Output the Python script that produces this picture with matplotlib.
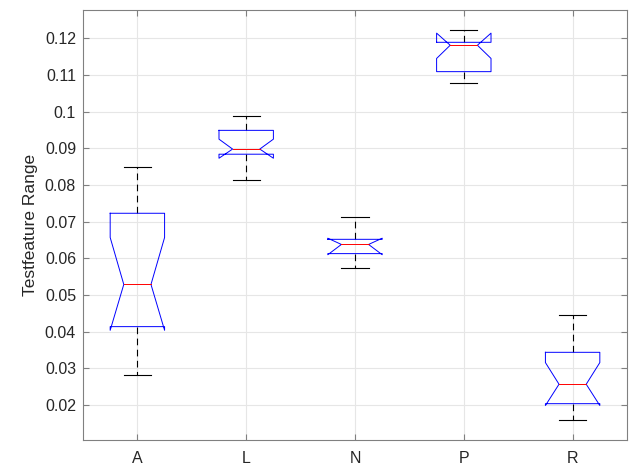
import matplotlib
matplotlib.use("Agg")
import matplotlib.pyplot as plt
import numpy as np

categories = ["A", "L", "N", "P", "R"]
upper_whisker = [0.0850, 0.0989, 0.0714, 0.1223, 0.0445]
q3 = [0.0723, 0.0949, 0.0652, 0.1189, 0.0344]
median = [0.0529, 0.0898, 0.0638, 0.1181, 0.0257]
q1 = [0.0414, 0.0884, 0.0613, 0.1109, 0.0204]
lower_whisker = [0.0282, 0.0815, 0.0573, 0.1077, 0.0159]
notch_hi = [0.0657, 0.0925, 0.0655, 0.1214, 0.0316]
notch_lo = [0.0404, 0.0873, 0.0610, 0.1145, 0.0199]
yticks = [0.02, 0.03, 0.04, 0.05, 0.06, 0.07, 0.08, 0.09, 0.10, 0.11, 0.12]

plt.rcParams['font.family'] = ['Liberation Sans', 'DejaVu Sans']
fig = plt.figure(figsize=(6.31, 4.66), dpi=100)
ax = fig.add_axes([0.1315, 0.0558, 0.8622, 0.9227])

hw = 0.25   # box half width
nw = 0.125  # notch / cap half width
for i in range(len(categories)):
    x = i + 1
    l, r = x - hw, x + hw
    li, ri = x - nw, x + nw
    xs = [l, l, li, l, l, r, r, ri, r, r, l]
    ys = [q3[i], notch_hi[i], median[i], notch_lo[i], q1[i], q1[i],
          notch_lo[i], median[i], notch_hi[i], q3[i], q3[i]]
    ax.plot(xs, ys, color='#0000ff', lw=0.7, zorder=3)
    ax.plot([li, ri], [median[i], median[i]], color='#ff0000', lw=0.7, zorder=4)
    ax.plot([x, x], [q3[i], upper_whisker[i]], color='black', lw=0.8,
            ls=(0, (6, 4)), zorder=2)
    ax.plot([x, x], [q1[i], lower_whisker[i]], color='black', lw=0.8,
            ls=(0, (6, 4)), zorder=2)
    ax.plot([li, ri], [upper_whisker[i], upper_whisker[i]], color='black', lw=0.8, zorder=2)
    ax.plot([li, ri], [lower_whisker[i], lower_whisker[i]], color='black', lw=0.8, zorder=2)

ax.set_xlim(0.5, len(categories) + 0.5)
ax.set_ylim(0.0105, 0.1277)
ax.set_xticks(range(1, len(categories) + 1))
ax.set_xticklabels(categories)
ax.set_yticks(yticks)
ax.set_yticklabels(['%g' % round(t, 2) for t in yticks])
ax.grid(True, color='#e6e6e6', lw=0.8, zorder=0)
ax.set_axisbelow(True)
ax.tick_params(direction='in', length=4, width=0.8, colors='#808080',
               labelcolor='#262626', labelsize=11.5, top=True, right=True)
ax.tick_params(axis='x', pad=8)
ax.tick_params(axis='y', pad=5)
for s in ax.spines.values():
    s.set_color('#808080')
    s.set_linewidth(0.8)
ax.set_ylabel('Testfeature Range', fontsize=12.5, color='#262626', labelpad=5)

fig.savefig('out.png', dpi=100)
